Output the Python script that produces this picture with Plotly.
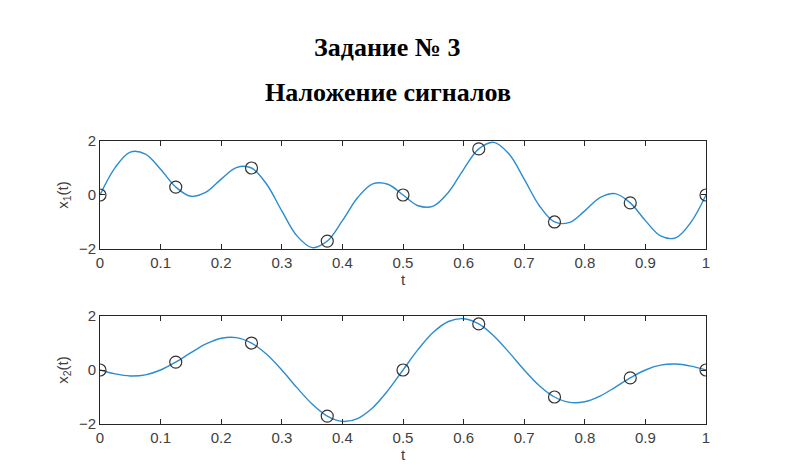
import plotly.graph_objects as go
from plotly.subplots import make_subplots

# dense curve readings (t step 0.025)
t_curve = [round(i * 0.025, 3) for i in range(41)]
x1_curve = [0, 1.016, 1.588, 1.516, 0.951, 0.293, -0.049, 0.102, 0.588, 1.016,
            1.0, 0.398, -0.588, -1.516, -1.951, -1.707, -0.951, -0.102, 0.412, 0.398,
            0.0, -0.398, -0.412, 0.102, 0.951, 1.707, 1.951, 1.516, 0.588, -0.398,
            -1.0, -1.016, -0.588, -0.102, 0.049, -0.293, -0.951, -1.516, -1.588, -1.016, 0.0]
x2_curve = [0, -0.145, -0.221, -0.179, 0.0, 0.293, 0.642, 0.965, 1.176, 1.2,
            1.0, 0.582, 0.0, -0.653, -1.26, -1.707, -1.902, -1.797, -1.397, -0.763,
            0.0, 0.763, 1.397, 1.797, 1.902, 1.707, 1.26, 0.653, 0.0, -0.582,
            -1.0, -1.2, -1.176, -0.965, -0.642, -0.293, 0.0, 0.179, 0.221, 0.145, 0.0]

# samples
t_samples = [0, 0.125, 0.25, 0.375, 0.5, 0.625, 0.75, 0.875, 1.0]
x_samples = [0, 0.293, 1.0, -1.707, 0.0, 1.707, -1.0, -0.293, 0.0]

x_ticks = [0, 0.1, 0.2, 0.3, 0.4, 0.5, 0.6, 0.7, 0.8, 0.9, 1]
x_ticklabels = ["0", "0.1", "0.2", "0.3", "0.4", "0.5", "0.6", "0.7", "0.8", "0.9", "1"]
y_ticks = [-2, 0, 2]

title1 = "Задание № 3"
title2 = "Наложение сигналов"

line_col = "#2b8ccf"
axis_col = "#262626"
tick_font = dict(family="Liberation Sans, Arial, sans-serif", size=15, color="#404040")

fig = make_subplots(rows=2, cols=1, vertical_spacing=0.237)

for row, curve, lab in [(1, x1_curve, "x<sub>1</sub>(t)"), (2, x2_curve, "x<sub>2</sub>(t)")]:
    fig.add_trace(go.Scatter(x=t_curve, y=curve, mode="lines",
                             line=dict(color=line_col, width=1.4, shape="spline", smoothing=1.0),
                             showlegend=False, hoverinfo="skip"), row=row, col=1)
    fig.add_trace(go.Scatter(x=t_samples, y=x_samples, mode="markers",
                             marker=dict(symbol="circle-open", size=12, color="#333333",
                                         line=dict(width=1.2)),
                             showlegend=False), row=row, col=1)
    fig.update_xaxes(range=[0, 1], tickvals=x_ticks, ticktext=x_ticklabels,
                     ticks="inside", ticklen=5, tickcolor=axis_col, mirror="ticks",
                     showline=True, linecolor=axis_col, linewidth=1, automargin=False,
                     showgrid=False, zeroline=False, tickfont=tick_font,
                     title=dict(text="t", font=tick_font, standoff=2), row=row, col=1)
    fig.update_yaxes(range=[-2, 2], tickvals=y_ticks,
                     ticks="inside", ticklen=5, tickcolor=axis_col, mirror="ticks",
                     showline=True, linecolor=axis_col, linewidth=1, automargin=False,
                     showgrid=False, zeroline=False, tickfont=tick_font,
                     title=dict(text=lab, font=tick_font, standoff=6), row=row, col=1)

# page body adds an 8px offset; figure sized 782x467 so plot areas land where the reference has them
fig.add_annotation(text="<b>" + title1 + "</b>", xref="paper", yref="paper",
                   x=(387.5 - 100) / 606, y=1 + (141 - 47) / 283, showarrow=False, yanchor="middle",
                   font=dict(family="Liberation Serif, Times New Roman, serif", size=26, color="black"))
fig.add_annotation(text="<b>" + title2 + "</b>", xref="paper", yref="paper",
                   x=(387.5 - 100) / 606, y=1 + (141 - 92) / 283, showarrow=False, yanchor="middle",
                   font=dict(family="Liberation Serif, Times New Roman, serif", size=26, color="black"))

fig.update_layout(width=782, height=467, margin=dict(l=92, r=84, t=133, b=51),
                  plot_bgcolor="white", paper_bgcolor="white")

fig.write_html("out.html")
